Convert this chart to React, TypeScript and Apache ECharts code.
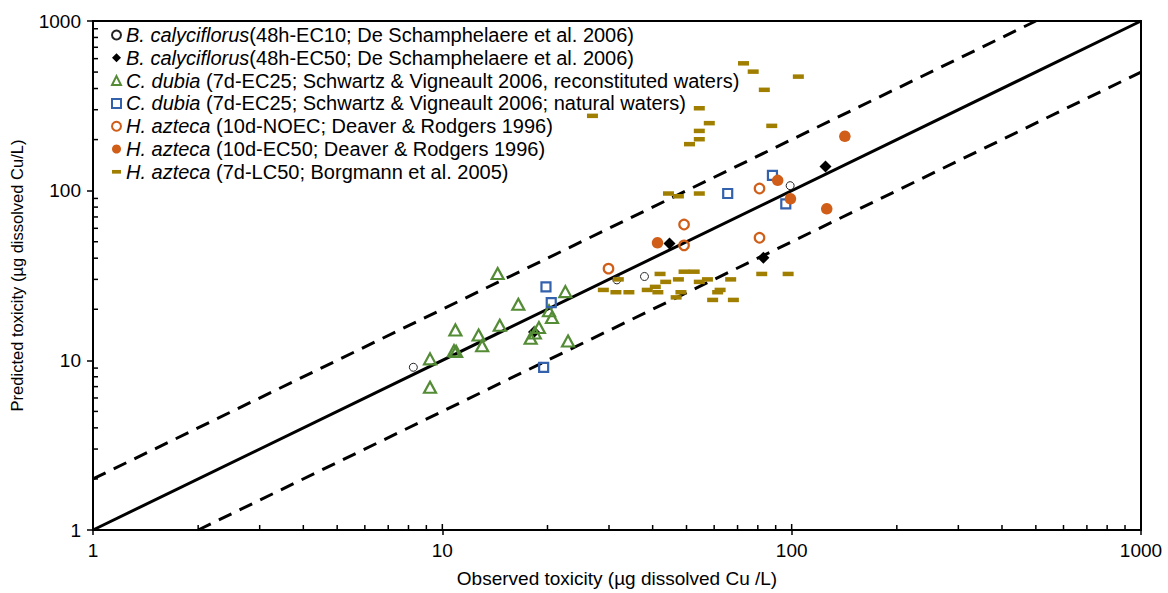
import React, { useEffect, useRef } from 'react';
import * as echarts from 'echarts';

// ---------- tick labels ----------
const xTickLabels = ['1', '10', '100', '1000'];
const yTickLabels = ['1', '10', '100', '1000'];
const minorTicks = [2, 3, 4, 5, 6, 7, 8, 9, 20, 30, 40, 50, 60, 70, 80, 90, 200, 300, 400, 500, 600, 700, 800, 900];
const xInsideMajor = [10, 100];

// ---------- reference lines ----------
const lineOneToOne = [[1, 1], [1000, 1000]];
const lineUpper = [[1, 2], [500, 1000]];
const lineLower = [[2, 1], [1000, 500]];

// ---------- legend texts ----------
const speciesNames = ['B. calyciflorus', 'B. calyciflorus', 'C. dubia ', 'C. dubia ', 'H. azteca ', 'H. azteca ', 'H. azteca '];
const studyNotes = [
  '(48h-EC10; De Schamphelaere et al. 2006)',
  '(48h-EC50; De Schamphelaere et al. 2006)',
  '(7d-EC25; Schwartz & Vigneault 2006, reconstituted waters)',
  '(7d-EC25; Schwartz & Vigneault 2006; natural waters)',
  '(10d-NOEC; Deaver & Rodgers 1996)',
  '(10d-EC50; Deaver & Rodgers 1996)',
  '(7d-LC50; Borgmann et al. 2005)',
];

// ---------- data [observed, predicted] ----------
const bcEC10 = [[8.26, 9.1], [31.6, 29.8], [37.9, 31.2], [99, 107]];
const bcEC50 = [[18.3, 14.7], [44.7, 48.9], [83.0, 40.3], [125, 139]];
const cdRecon = [
  [14.4, 32.5], [16.5, 21.4], [22.5, 25.4], [20.2, 19.6], [20.6, 17.9], [10.9, 15.1],
  [12.7, 14.1], [14.6, 16.1], [13.0, 12.2], [18.9, 15.6], [18.4, 14.5], [17.9, 13.5],
  [10.8, 11.4], [10.95, 11.3], [9.22, 10.2], [22.9, 13.0], [9.22, 6.94],
];
const cdNatural = [[19.8, 27.1], [20.5, 21.9], [19.5, 9.1], [65.6, 96.2], [88.1, 123], [96.2, 83.6]];
const haNOEC = [[49.2, 63.2], [49.2, 47.6], [80.9, 103], [80.9, 52.8], [29.9, 34.7]];
const haEC50 = [[41.3, 49.3], [91.2, 115], [99.2, 89.5], [142, 209], [126, 78.2]];
const haLC50 = [
  [72.8, 563], [77.6, 503], [83.5, 393], [104.5, 470], [54.4, 306], [58.1, 250], [54.4, 225],
  [54.4, 201], [51.0, 188], [87.7, 241], [26.9, 276], [44.4, 96.2], [47.4, 92.7], [54.4, 96.2],
  [31.9, 30.0], [42.0, 32.3], [43.6, 29.0], [47.4, 30.0], [49.2, 33.3], [52.6, 33.3], [54.4, 29.0],
  [57.4, 30.0], [66.9, 30.0], [82.1, 32.3], [97.7, 32.3], [28.9, 26.0], [31.4, 25.2], [34.2, 25.2],
  [38.6, 26.0], [40.7, 27.1], [41.4, 25.2], [48.2, 25.2], [46.7, 23.5], [62.4, 26.0], [61.4, 25.2],
  [59.4, 22.7], [68.1, 22.7],
];

const FONT = '"Liberation Sans", Arial, sans-serif';
const GREEN = '#548c36';
const BLUE = '#3461ac';
const ORANGE = '#d05e18';
const GOLD = '#a07f00';
const HFONT = 19;
const LFONT = 20;

const seriesNames = speciesNames.map((s, i) => s.trim() + ' ' + studyNotes[i]);

function labelFor(labels: string[]) {
  return (v: number) => {
    const idx = Math.round(Math.log10(v));
    return labels[idx] ?? '';
  };
}

export default function App() {
  const ref = useRef<HTMLDivElement>(null);
  useEffect(() => {
    if (!ref.current) return;
    const chart = echarts.init(ref.current, null, { renderer: 'svg' });
    const richMap: Record<string, string> = {};
    seriesNames.forEach((n, i) => {
      richMap[n] = `{i|${speciesNames[i]}}{n|${studyNotes[i]}}`;
    });

    const lineSeries = (data: number[][], dashed: boolean) => ({
      type: 'line',
      data,
      symbol: 'none',
      silent: true,
      lineStyle: { color: '#000', width: 3, type: dashed ? [14, 9] : 'solid' },
      z: 1,
    });

    const option: any = {
      animation: false,
      textStyle: { fontFamily: FONT, color: '#000' },
      grid: { left: 93, right: 27, top: 21, bottom: 61.5, show: true, borderColor: '#000', borderWidth: 2 },
      xAxis: {
        type: 'log',
        logBase: 10,
        min: 1,
        max: 1000,
        name: 'Observed toxicity (µg dissolved Cu /L)',
        nameLocation: 'middle',
        nameGap: 39,
        nameTextStyle: { fontSize: HFONT, color: '#000', fontFamily: FONT },
        axisLine: { lineStyle: { color: '#000', width: 2 } },
        axisTick: { show: true, inside: false, length: 5, lineStyle: { color: '#000', width: 1.5 } },
        axisLabel: { fontSize: HFONT, color: '#000', margin: 11, fontFamily: FONT, formatter: labelFor(xTickLabels) },
        splitLine: { show: false },
      },
      yAxis: {
        type: 'log',
        logBase: 10,
        min: 1,
        max: 1000,
        name: 'Predicted toxicity (µg dissolved Cu/L)',
        nameLocation: 'middle',
        nameGap: 68,
        nameTextStyle: { fontSize: 16.5, color: '#000', fontFamily: FONT },
        axisLine: { lineStyle: { color: '#000', width: 2 } },
        axisTick: { show: true, inside: false, length: 6, lineStyle: { color: '#000', width: 1.5 } },
        axisLabel: { fontSize: HFONT, color: '#000', margin: 12, fontFamily: FONT, formatter: labelFor(yTickLabels) },
        splitLine: { show: false },
      },
      legend: {
        orient: 'vertical',
        left: 106,
        top: 20,
        itemWidth: 9,
        itemHeight: 9,
        itemGap: 2.8,
        data: seriesNames.map((n, i) =>
          i === 6 ? { name: n, icon: 'path://M0,0L11,0L11,4.5L0,4.5Z' } : { name: n }
        ),
        formatter: (name: string) => richMap[name] ?? name,
        textStyle: {
          fontFamily: FONT,
          fontSize: LFONT,
          lineHeight: 20,
          color: '#000',
          rich: {
            i: { fontStyle: 'italic', fontSize: LFONT, fontFamily: FONT, color: '#000', lineHeight: 20 },
            n: { fontSize: LFONT, fontFamily: FONT, color: '#000', lineHeight: 20 },
          },
        },
      },
      series: [
        lineSeries(lineOneToOne, false),
        lineSeries(lineUpper, true),
        lineSeries(lineLower, true),
        {
          type: 'custom',
          silent: true,
          z: 5,
          data: minorTicks.concat(xInsideMajor).map((v) => [v, 1]),
          renderItem: (_p: any, api: any) => {
            const v = api.value(0);
            const p = api.coord([v, 1]);
            const len = v === 10 || v === 100 ? 6 : 5;
            return { type: 'line', shape: { x1: p[0], y1: p[1], x2: p[0], y2: p[1] - len }, style: { stroke: '#000', lineWidth: 1.5 } };
          },
        },
        {
          type: 'custom',
          silent: true,
          z: 5,
          data: minorTicks.map((v) => [1, v]),
          renderItem: (_p: any, api: any) => {
            const p = api.coord([1, api.value(1)]);
            return { type: 'line', shape: { x1: p[0], y1: p[1], x2: p[0] + 5, y2: p[1] }, style: { stroke: '#000', lineWidth: 1.5 } };
          },
        },
        {
          name: seriesNames[0], type: 'scatter', data: bcEC10, symbol: 'circle', symbolSize: 8, z: 3,
          itemStyle: { color: 'rgba(255,255,255,0)', borderColor: '#222', borderWidth: 1, opacity: 1 },
        },
        {
          name: seriesNames[1], type: 'scatter', data: bcEC50, symbol: 'diamond', symbolSize: 12, z: 3,
          itemStyle: { color: '#000', opacity: 1 },
        },
        {
          name: seriesNames[2], type: 'scatter', data: cdRecon, symbol: 'triangle', symbolSize: [12, 11], z: 3,
          itemStyle: { color: 'rgba(255,255,255,0)', borderColor: GREEN, borderWidth: 2.2, opacity: 1 },
        },
        {
          name: seriesNames[3], type: 'scatter', data: cdNatural, symbol: 'rect', symbolSize: 9, z: 3,
          itemStyle: { color: 'rgba(255,255,255,0)', borderColor: BLUE, borderWidth: 2.2, opacity: 1 },
        },
        {
          name: seriesNames[4], type: 'scatter', data: haNOEC, symbol: 'circle', symbolSize: 9.5, z: 3,
          itemStyle: { color: 'rgba(255,255,255,0)', borderColor: ORANGE, borderWidth: 2.2, opacity: 1 },
        },
        {
          name: seriesNames[5], type: 'scatter', data: haEC50, symbol: 'circle', symbolSize: 11.5, z: 3,
          itemStyle: { color: ORANGE, opacity: 1 },
        },
        {
          name: seriesNames[6], type: 'scatter', data: haLC50, symbol: 'rect', symbolSize: [11, 4.5], z: 4,
          itemStyle: { color: GOLD, opacity: 1 },
        },
      ],
    };
    chart.setOption(option);
    return () => chart.dispose();
  }, []);

  return <div ref={ref} style={{ position: 'absolute', left: 0, top: 0, width: 1168, height: 593 }} />;
}
